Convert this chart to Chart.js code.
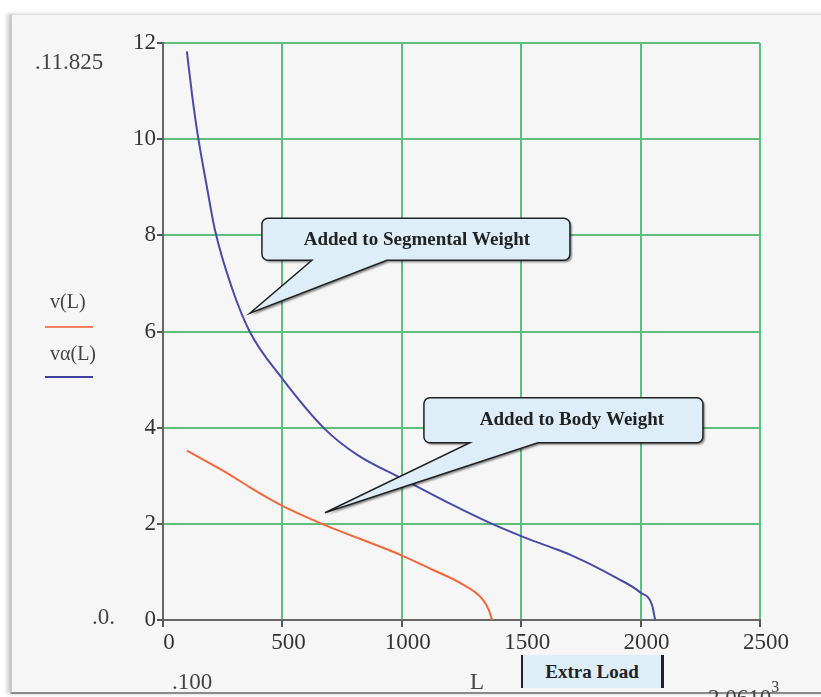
<!DOCTYPE html>
<html>
<head>
<meta charset="utf-8">
<script src="https://cdn.jsdelivr.net/npm/chart.js@4.4.1/dist/chart.umd.min.js"></script>
<style>
  html, body { margin: 0; padding: 0; background: #fff; }
  #wrap { position: relative; width: 821px; height: 697px; overflow: hidden; }
  #frame {
    position: absolute; left: 10px; top: 14px; width: 830px; height: 677px;
    background: #f6f6f6; border-top: 1px solid #e0e0e0; border-left: 2px solid #c8c8c8;
    border-bottom: 2px solid #8a8a8a; box-shadow: -3px 0 4px rgba(0,0,0,0.2);
  }
  #chart { position: absolute; left: 0; top: 0; }
  .lbl { position: absolute; font-family: "Liberation Serif", serif; font-size: 23px; color: #444; white-space: nowrap; line-height: 24px; }
  .key { position: absolute; left: 45px; width: 48px; height: 2px; }
  #extra {
    position: absolute; left: 521px; top: 655px; width: 138px; height: 33px;
    background: #ddeef8; border-left: 2px solid #222; border-right: 3px solid #222;
    font: bold 19px "Liberation Serif", serif; color: #222; text-align: center; line-height: 33px;
  }
</style>
</head>
<body>
<div id="wrap">
  <div id="frame"></div>
  <canvas id="chart" width="821" height="697"></canvas>

  <div class="lbl" style="left:35px; top:50px;">.11.825</div>
  <div class="lbl" style="left:92px; top:605px;">.0.</div>
  <div class="lbl" style="left:172px; top:670px;">.100</div>
  <div class="lbl" style="left:470px; top:670px;">L</div>
  <div class="lbl" style="left:708px; top:679px;">2.0610<sup style="font-size:16px; position:relative; top:-4px;">3</sup></div>

  <div class="lbl" style="left:50px; top:289px; font-size:20px;">v(L)</div>
  <div class="key" style="top:326px; background:#f4805c;"></div>
  <div class="lbl" style="left:50px; top:341px; font-size:20px;">vα(L)</div>
  <div class="key" style="top:376px; background:#3f3fa0;"></div>

  <div id="extra">Extra Load</div>
</div>

<script>
// added to segmental weight: vα(L)
const segLoad = [100, 121, 142, 184, 218, 289, 364, 498, 678, 812, 1001, 1202, 1369, 1508, 1620, 1704, 1901, 1997, 2048, 2061];
const segVel  = [11.825, 10.95, 10.2, 9.0, 8.1, 6.9, 5.99, 5.03, 3.97, 3.44, 2.94, 2.42, 2.02, 1.73, 1.52, 1.36, 0.87, 0.58, 0.31, 0];

// added to body weight: v(L)
const bodyLoad = [100, 281, 364, 498, 666, 1001, 1131, 1244, 1340, 1365, 1378];
const bodyVel  = [3.52, 3.02, 2.76, 2.38, 2.0, 1.34, 1.04, 0.77, 0.42, 0.2, 0];

const xTicks = [0, 500, 1000, 1500, 2000, 2500];
const yTicks = [0, 2, 4, 6, 8, 10, 12];

const toPoints = (xs, ys) => xs.map((x, i) => ({ x: x, y: ys[i] }));

const green = '#5dbf7e';
const serif = '"Liberation Serif", serif';

// callouts hang off a point on a curve, box drawn relative to that tip
const callouts = [
  { text: 'Added to Segmental Weight', at: { x: 364, y: 6.38 },
    box: [12, -95, 308, 42], tail: [62, 137], label: [167, -73] },
  { text: 'Added to Body Weight', at: { x: 678, y: 2.23 },
    box: [99, -115, 279, 45], tail: [145, 213], label: [247, -93] }
];

const calloutPlugin = {
  id: 'callouts',
  afterDatasetsDraw(chart) {
    const ctx = chart.ctx;
    const sx = chart.scales.x, sy = chart.scales.y;
    callouts.forEach(c => {
      const tx = sx.getPixelForValue(c.at.x);
      const ty = sy.getPixelForValue(c.at.y);
      const [bx, by, bw, bh] = c.box;
      const x = tx + bx, y = ty + by, r = 6;
      const b = y + bh;
      ctx.save();
      ctx.beginPath();
      ctx.moveTo(x + r, y);
      ctx.lineTo(x + bw - r, y);
      ctx.arcTo(x + bw, y, x + bw, y + r, r);
      ctx.lineTo(x + bw, b - r);
      ctx.arcTo(x + bw, b, x + bw - r, b, r);
      ctx.lineTo(tx + c.tail[1], b);
      ctx.lineTo(tx, ty);
      ctx.lineTo(tx + c.tail[0], b);
      ctx.lineTo(x + r, b);
      ctx.arcTo(x, b, x, b - r, r);
      ctx.lineTo(x, y + r);
      ctx.arcTo(x, y, x + r, y, r);
      ctx.closePath();
      ctx.shadowColor = 'rgba(0,0,0,0.45)';
      ctx.shadowOffsetX = 2;
      ctx.shadowOffsetY = 2;
      ctx.shadowBlur = 2;
      ctx.fillStyle = '#ddeef8';
      ctx.fill();
      ctx.shadowColor = 'transparent';
      ctx.lineWidth = 1.5;
      ctx.strokeStyle = '#222';
      ctx.stroke();
      ctx.fillStyle = '#222';
      ctx.font = 'bold 19px ' + serif;
      ctx.textAlign = 'center';
      ctx.textBaseline = 'middle';
      ctx.fillText(c.text, tx + c.label[0], ty + c.label[1]);
      ctx.restore();
    });
  }
};

new Chart(document.getElementById('chart'), {
  type: 'scatter',
  data: {
    datasets: [
      {
        label: 'v(L)',
        data: toPoints(bodyLoad, bodyVel),
        showLine: true,
        borderColor: '#f5673a',
        borderWidth: 2,
        pointRadius: 0,
        cubicInterpolationMode: 'monotone'
      },
      {
        label: 'vα(L)',
        data: toPoints(segLoad, segVel),
        showLine: true,
        borderColor: '#4a4aaa',
        borderWidth: 2,
        pointRadius: 0,
        cubicInterpolationMode: 'monotone'
      }
    ]
  },
  options: {
    responsive: false,
    animation: false,
    layout: { padding: { left: 0, top: 43, right: 61, bottom: 0 } },
    plugins: {
      legend: { display: false },
      tooltip: { enabled: false }
    },
    scales: {
      x: {
        type: 'linear',
        min: xTicks[0],
        max: xTicks[xTicks.length - 1],
        afterBuildTicks: s => { s.ticks = xTicks.map(v => ({ value: v })); },
        afterFit: s => { s.height = 77; },
        ticks: { font: { family: serif, size: 23 }, color: '#333', padding: 2, labelOffset: 6, maxRotation: 0, callback: v => String(v) },
        grid: { color: ctx => ctx.tick && ctx.tick.value === 0 ? '#666' : green, lineWidth: 2, tickLength: 7, tickColor: '#555' },
        border: { color: '#666', width: 2 }
      },
      y: {
        type: 'linear',
        min: yTicks[0],
        max: yTicks[yTicks.length - 1],
        afterBuildTicks: s => { s.ticks = yTicks.map(v => ({ value: v })); },
        afterFit: s => { s.width = 163; },
        ticks: { font: { family: serif, size: 23 }, color: '#333', padding: 1, callback: v => String(v) },
        grid: { color: ctx => ctx.tick && ctx.tick.value === 0 ? '#666' : green, lineWidth: 2, tickLength: 6, tickColor: '#555' },
        border: { color: '#666', width: 2 }
      }
    }
  },
  plugins: [calloutPlugin]
});
</script>
</body>
</html>
